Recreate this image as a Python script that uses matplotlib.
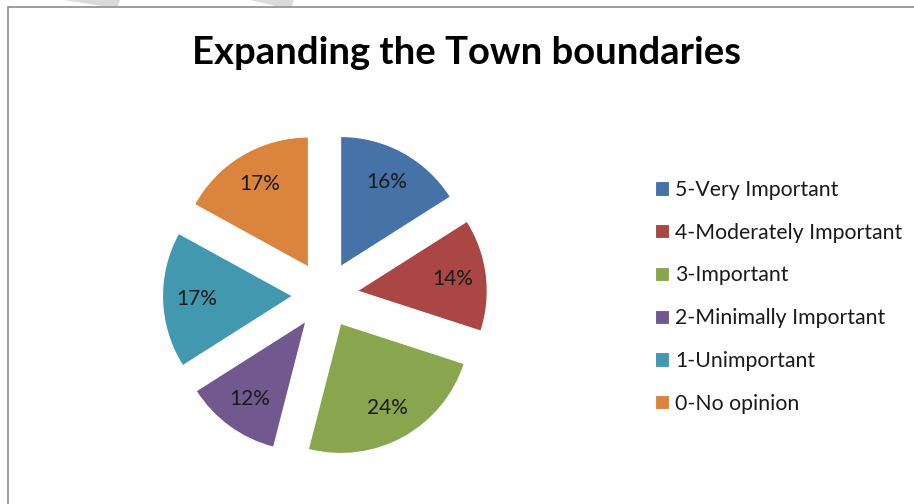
import matplotlib.pyplot as plt
from matplotlib.patches import Polygon, Rectangle

categories = [
    "5-Very Important",
    "4-Moderately Important",
    "3-Important",
    "2-Minimally Important",
    "1-Unimportant",
    "0-No opinion",
]
shares = [16, 14, 24, 12, 17, 17]
colors = ["#4572A7", "#AA4643", "#89A54E", "#71588F", "#4198AF", "#DB843D"]
title = "Expanding the Town boundaries"

plt.rcParams["font.family"] = ["Lato", "DejaVu Sans"]

W, H = 914, 504
fig = plt.figure(figsize=(W / 100, H / 100), dpi=100)

# chart frame (only left and top edges fall inside the crop)
fig.patches.append(Rectangle((8 / W, -0.1), 1.2, (H - 7) / H + 0.1, transform=fig.transFigure,
                             fill=False, edgecolor="#8c8c8c", linewidth=1.2))
# faint watermark strokes at the very top
for xs in ([64, 120, 118, 102], [250, 294, 292, 276]):
    fig.patches.append(Polygon([(xs[0] / W, 1), (xs[1] / W, 1), (xs[2] / W, 1 - 6 / H), (xs[3] / W, 1 - 6 / H)],
                               closed=True, transform=fig.transFigure, facecolor="#dadada", edgecolor="none"))

fig.text(467 / W, 1 - 53 / H, title, ha="center", va="center", fontsize=27.5, fontweight="bold")

# pie axes: center at (325, 295) px, radius 130 px
R = 130
ext = 1.5
cx, cy = 325, 295
ax = fig.add_axes([(cx - ext * R) / W, (H - cy - ext * R) / H, 2 * ext * R / W, 2 * ext * R / H])
wedges, texts, autotexts = ax.pie(
    shares,
    colors=colors,
    startangle=90,
    counterclock=False,
    explode=[0.25] * len(shares),
    autopct="%1.0f%%",
    pctdistance=0.74,
    radius=1.0,
    wedgeprops={"linewidth": 0.8, "edgecolor": "white"},
    textprops={"fontsize": 15, "color": "#1a1a1a"},
)
ax.set_xlim(-ext, ext)
ax.set_ylim(-ext, ext)
ax.set_aspect("auto")
ax.axis("off")

leg = fig.legend(
    wedges,
    categories,
    loc="upper left",
    bbox_to_anchor=(655 / W, 1 - 180 / H),
    frameon=False,
    fontsize=15.3,
    handlelength=0.65,
    handleheight=0.65,
    handletextpad=0.3,
    labelspacing=1.07,
    borderaxespad=0,
    borderpad=0,
)
for t in leg.get_texts():
    t.set_color("#1a1a1a")

fig.savefig("out.png", dpi=100)
